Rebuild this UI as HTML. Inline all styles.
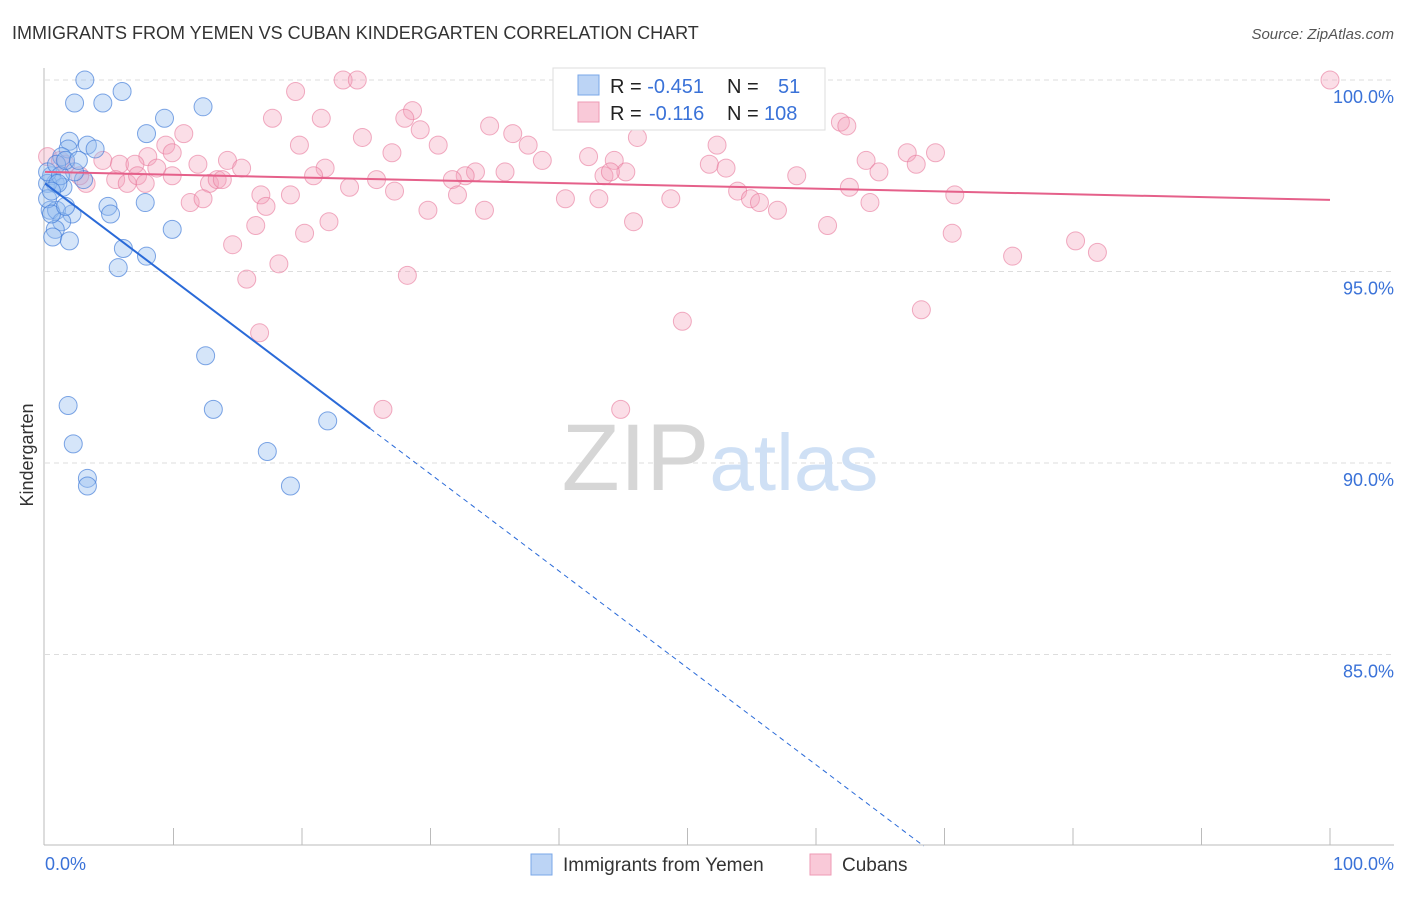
<!DOCTYPE html>
<html><head><meta charset="utf-8"><style>
body{margin:0;background:#fff;font-family:"Liberation Sans",sans-serif;}
svg text{font-family:"Liberation Sans",sans-serif;}
</style></head><body>
<svg width="1406" height="892" xmlns="http://www.w3.org/2000/svg">
<text x="12" y="39" font-size="18" fill="#333">IMMIGRANTS FROM YEMEN VS CUBAN KINDERGARTEN CORRELATION CHART</text>
<text x="1394" y="39" font-size="15" fill="#555" text-anchor="end" font-style="italic">Source: ZipAtlas.com</text>
<g id="grid"></g>
<text x="720" y="490" font-size="95" fill="#ddd" text-anchor="middle" font-family="Liberation Serif"><tspan fill="#d6d6d6">ZIP</tspan><tspan fill="#cfe0f5" font-family="Liberation Sans" font-size="80">atlas</tspan></text>
<g id="marks"></g>
<text transform="translate(33,455) rotate(-90)" font-size="18" fill="#333" text-anchor="middle">Kindergarten</text>
<text x="45" y="870" font-size="18" fill="#3a72d8">0.0%</text>
<text x="1394" y="870" font-size="18" fill="#3a72d8" text-anchor="end">100.0%</text>
<g>
<rect x="531" y="854" width="21" height="21" fill="#bcd4f5" stroke="#7aa7e8"/>
<text x="563" y="871" font-size="19" fill="#333">Immigrants from Yemen</text>
<rect x="810" y="854" width="21" height="21" fill="#f9c9d8" stroke="#ee9ab4"/>
<text x="842" y="871" font-size="19" fill="#333">Cubans</text>
</g>
<g>
<rect x="553" y="68" width="272" height="62" fill="#fff" stroke="#ddd"/>
<rect x="578" y="75" width="21" height="20" fill="#bcd4f5" stroke="#7aa7e8"/>
<rect x="578" y="102" width="21" height="20" fill="#f9c9d8" stroke="#ee9ab4"/>
<text x="610" y="93" font-size="20" fill="#222">R = <tspan fill="#3a72d8">-0.451</tspan><tspan x="727">N =</tspan><tspan x="778" fill="#3a72d8">51</tspan></text>
<text x="610" y="120" font-size="20" fill="#222">R = <tspan x="649" fill="#3a72d8">-0.116</tspan><tspan x="727">N =</tspan><tspan x="764" fill="#3a72d8">108</tspan></text>
</g>
</svg>
<script>
const yTicks=[100,95,90,85];
const yTickLabels=["100.0%","95.0%","90.0%","85.0%"];
const xTicks=[10,20,30,40,50,60,70,80,90,100];
const yemenX=[3.1,2.3,4.5,6.0,9.3,12.3,7.9,1.9,3.3,3.9,1.8,1.3,0.5,0.8,1.4,0.2,3.0,2.3,4.9,5.1,0.4,0.9,2.1,1.3,0.8,0.6,1.9,7.8,9.9,6.1,7.9,5.7,12.5,1.8,13.1,22.0,2.2,17.3,3.3,3.3,19.1,0.2,0.9,1.2,0.2,0.5,1.6,2.6,1.0,0.5,1.6];
const yemenY=[100.0,99.4,99.4,99.7,99.0,99.3,98.6,98.4,98.3,98.2,98.2,98.0,97.5,97.3,97.2,97.3,97.4,97.6,96.7,96.5,96.6,96.6,96.5,96.3,96.1,95.9,95.8,96.8,96.1,95.6,95.4,95.1,92.8,91.5,91.4,91.1,90.5,90.3,89.6,89.4,89.4,97.6,97.8,97.5,96.9,96.5,97.9,97.9,97.3,97.1,96.7];
const cubanX=[100,23.2,24.3,19.5,28.6,17.7,21.5,28.0,34.6,10.8,24.7,19.8,29.2,30.6,36.4,37.6,46.1,52.3,61.9,62.4,9.4,9.9,8.0,27.0,42.3,44.3,38.7,67.1,69.3,63.9,67.8,11.9,14.2,15.3,21.8,20.9,25.8,33.5,35.8,32.7,31.7,43.5,45.2,44.0,51.7,53.0,58.5,64.9,4.5,5.8,7.0,8.7,0.2,1.2,5.5,6.4,7.2,12.8,13.4,13.8,16.8,19.1,23.7,27.2,32.1,43.1,53.9,54.9,55.6,62.6,70.8,64.2,11.3,12.3,17.2,29.8,34.2,40.5,48.7,57.0,16.4,22.1,20.2,45.8,60.9,70.6,14.6,80.2,81.9,75.3,18.2,15.7,28.2,68.2,49.6,16.7,26.3,44.8,3.2,2.7,7.8,1.6,9.9];
const cubanY=[100.0,100.0,100.0,99.7,99.2,99.0,99.0,99.0,98.8,98.6,98.5,98.3,98.7,98.3,98.6,98.3,98.5,98.3,98.9,98.8,98.3,98.1,98.0,98.1,98.0,97.9,97.9,98.1,98.1,97.9,97.8,97.8,97.9,97.7,97.7,97.5,97.4,97.6,97.6,97.5,97.4,97.5,97.6,97.6,97.8,97.7,97.5,97.6,97.9,97.8,97.8,97.7,98.0,97.9,97.4,97.3,97.5,97.3,97.4,97.4,97.0,97.0,97.2,97.1,97.0,96.9,97.1,96.9,96.8,97.2,97.0,96.8,96.8,96.9,96.7,96.6,96.6,96.9,96.9,96.6,96.2,96.3,96.0,96.3,96.2,96.0,95.7,95.8,95.5,95.4,95.2,94.8,94.9,94.0,93.7,93.4,91.4,91.4,97.3,97.5,97.3,97.8,97.5];
const yemenTrend=[97.3,-0.253]; // intercept, slope per %
const cubanTrend=[97.6,-0.0073];
const X0=45,X1=1330,Y100=80,PXPCT=38.3;
const sx=v=>X0+(X1-X0)*v/100;
const sy=v=>Y100+(100-v)*PXPCT;
const NS="http://www.w3.org/2000/svg";
function mk(t,a,p){const e=document.createElementNS(NS,t);for(const k in a)e.setAttribute(k,a[k]);p.appendChild(e);return e;}
const grid=document.getElementById('grid'),marks=document.getElementById('marks');
yTicks.forEach((t,i)=>{
 const l=mk('line',{x1:X0,x2:1394,y1:sy(t),y2:sy(t),stroke:'#ddd','stroke-dasharray':'5,4'},grid);
 
 
 const tx=mk('text',{x:1394,y:sy(t)+23,'font-size':18,fill:'#3a72d8','text-anchor':'end'},grid);
 tx.textContent=yTickLabels[i];
 
 
});
const ax=mk('line',{x1:44,x2:44,y1:68,y2:845,stroke:'#bbb'},grid);


const bx=mk('line',{x1:44,x2:1394,y1:845,y2:845,stroke:'#bbb'},grid);


xTicks.forEach(t=>{
 const l=mk('line',{x1:sx(t),x2:sx(t),y1:828,y2:845,stroke:'#bbb'},grid);
 
 
});
cubanX.forEach((x,i)=>{
 const c=mk('circle',{cx:sx(x),cy:sy(cubanY[i]),r:9,fill:'rgba(244,160,186,0.35)',stroke:'rgba(232,120,155,0.6)','stroke-width':1},marks);
 
 
});
yemenX.forEach((x,i)=>{
 const c=mk('circle',{cx:sx(x),cy:sy(yemenY[i]),r:9,fill:'rgba(150,190,240,0.4)',stroke:'rgba(60,120,215,0.65)','stroke-width':1},marks);
 
 
});
const ty=x=>yemenTrend[0]+yemenTrend[1]*x;
const l1=mk('line',{x1:sx(0),y1:sy(ty(0)),x2:sx(25.3),y2:sy(ty(25.3)),stroke:'#2a6ad8','stroke-width':2},marks);


const xEnd=(yemenTrend[0]-80)/-yemenTrend[1];
const l2=mk('line',{x1:sx(25.3),y1:sy(ty(25.3)),x2:sx(xEnd),y2:sy(80),stroke:'#2a6ad8','stroke-width':1,'stroke-dasharray':'5,4'},marks);


const tc=x=>cubanTrend[0]+cubanTrend[1]*x;
const l3=mk('line',{x1:sx(0),y1:sy(tc(0)),x2:sx(100),y2:sy(tc(100)),stroke:'#e5608a','stroke-width':2},marks);


</script>
</body></html>
